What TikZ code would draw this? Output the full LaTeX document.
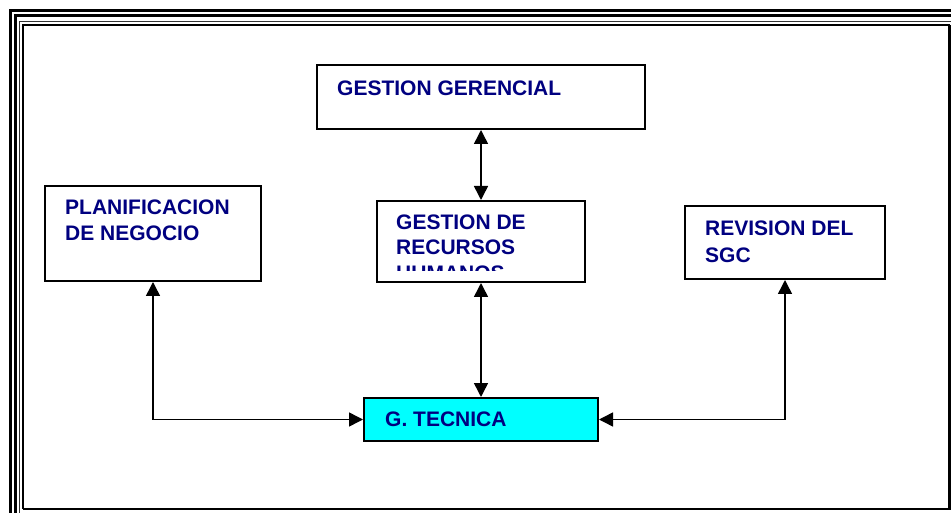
\documentclass[tikz,border=0pt]{standalone}
\usepackage{fontspec}
\setmainfont{Liberation Sans}
\usetikzlibrary{arrows.meta}
\definecolor{navytext}{RGB}{0,0,128}
\definecolor{cyanfill}{RGB}{0,255,255}
\begin{document}
\begin{tikzpicture}[x=1pt,y=-1pt,
  box/.style={draw=black, line width=2pt, fill=white, inner sep=0pt, anchor=north west},
  lbl/.style={anchor=base west, inner sep=0pt, text=navytext, font=\fontsize{21}{25}\selectfont\bfseries},
  tip/.tip={Triangle[length=14pt,width=14pt]},
  link/.style={line width=1.5pt, tip-tip},
]
\useasboundingbox (0,0) rectangle (951,513);
\clip (0,0) rectangle (951,513);

% page frame
\draw[line width=3pt] (10.5,600) -- (10.5,11) -- (1000,11);
\draw[line width=3pt] (15,600) -- (15,16) -- (1000,16);
\draw[line width=1.2pt, black!80] (19.5,600) -- (19.5,21.5) -- (1000,21.5);
\draw[line width=2pt] (23,509) -- (23,25) -- (949.5,25);
\draw[line width=3pt] (949.5,25) -- (949.5,509);
\draw[line width=2pt] (23,509) -- (951,509);

% boxes
\node[box, minimum width=328, minimum height=64] (gg) at (316,64) {};
\node[box, minimum width=216, minimum height=95] (pn) at (44,185) {};
\node[box, minimum width=208, minimum height=81] (hr) at (376,200) {};
\node[box, minimum width=200, minimum height=73] (rs) at (684,205) {};
\node[box, fill=cyanfill, minimum width=234, minimum height=43] (gt) at (363,397) {};

% labels
\node[lbl] (gg-t) at (337,95.5) {GESTION GERENCIAL};
\node[lbl] (pn-t1) at (65,215) {PLANIFICACION};
\node[lbl] (pn-t2) at (65,241) {DE NEGOCIO};
\node[lbl] (hr-t1) at (396,229.5) {GESTION DE};
\node[lbl] (hr-t2) at (396,255) {RECURSOS};
\begin{scope}
  \clip (376,200) rectangle (584,271);
  \node[lbl] (hr-t3) at (396,280.5) {HUMANOS};
\end{scope}
\node[lbl] (rs-t1) at (705,236) {REVISION DEL};
\node[lbl] (rs-t2) at (705,262) {SGC};
\node[lbl] (gt-t) at (385,426.7) {G. TECNICA};

% connectors
\draw[link] (gg.south) -- (hr.north);
\draw[link] (hr.south) -- (gt.north);
\draw[link] (pn.south) |- (gt.west);
\draw[link] (rs.south) |- (gt.east);
\end{tikzpicture}
\end{document}
